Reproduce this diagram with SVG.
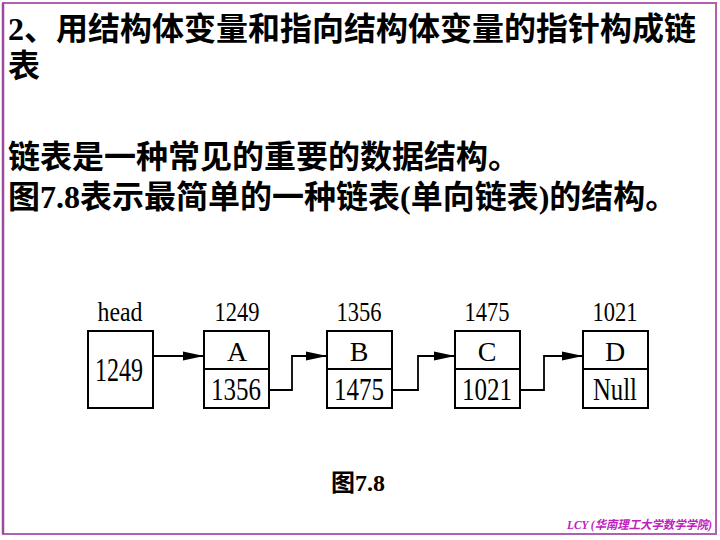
<svg xmlns="http://www.w3.org/2000/svg" width="720" height="540" viewBox="0 0 720 540">
<defs>
<style>
.h{font-family:"Noto Sans CJK SC",sans-serif;font-weight:bold;font-size:32px;fill:#000}
.l{font-family:"Liberation Serif",serif;font-weight:bold}
.t{font-family:"Liberation Serif",serif;fill:#000;text-anchor:middle}
.box{fill:#fff;stroke:#000;stroke-width:2}
.ln{fill:none;stroke:#000;stroke-width:1.8}
</style>
<marker id="ah" markerUnits="userSpaceOnUse" markerWidth="22" markerHeight="10" refX="21" refY="5" orient="auto">
<path d="M0,0.5 L21,5 L0,9.5 Z" fill="#000"/>
</marker>
</defs>
<rect x="0" y="0" width="720" height="540" fill="#fff"/>
<rect x="3" y="3" width="713" height="531" fill="none" stroke="#b060b0" stroke-width="2"/>
<line x1="3" y1="3" x2="3" y2="534" stroke="#9a4a9a" stroke-width="2.5"/>

<text class="h" x="8" y="40"><tspan class="l">2</tspan>、用结构体变量和指向结构体变量的指针构成链</text>
<text class="h" x="8" y="77">表</text>
<text class="h" x="8" y="168">链表是一种常见的重要的数据结构。</text>
<text class="h" x="8" y="208">图<tspan class="l">7.8</tspan>表示最简单的一种链表<tspan class="l">(</tspan>单向链表<tspan class="l">)</tspan>的结构。</text>

<g id="connectors">
<line class="ln" x1="153" y1="356" x2="204" y2="356" marker-end="url(#ah)"/>
<polyline class="ln" points="269,390 292,390 292,356 327,356" marker-end="url(#ah)"/>
<polyline class="ln" points="392,390 418,390 418,356 455,356" marker-end="url(#ah)"/>
<polyline class="ln" points="520,390 544,390 544,356 583,356" marker-end="url(#ah)"/>
</g>

<g id="head">
<text class="t" x="120" y="321" font-size="27" textLength="45" lengthAdjust="spacingAndGlyphs">head</text>
<rect class="box" x="88" y="331" width="65" height="77"/>
<text class="t" x="119" y="381" font-size="34" textLength="48" lengthAdjust="spacingAndGlyphs">1249</text>
</g>

<g id="nodeA">
<text class="t" x="237" y="321" font-size="27" textLength="45" lengthAdjust="spacingAndGlyphs">1249</text>
<rect class="box" x="204" y="331" width="65" height="77"/>
<line class="ln" x1="204" y1="369" x2="269" y2="369" stroke-width="2"/>
<text class="t" x="237" y="361" font-size="28">A</text>
<text class="t" x="236" y="400" font-size="32" textLength="50" lengthAdjust="spacingAndGlyphs">1356</text>
</g>

<g id="nodeB">
<text class="t" x="359" y="321" font-size="27" textLength="45" lengthAdjust="spacingAndGlyphs">1356</text>
<rect class="box" x="327" y="331" width="65" height="77"/>
<line class="ln" x1="327" y1="369" x2="392" y2="369" stroke-width="2"/>
<text class="t" x="359" y="361" font-size="28">B</text>
<text class="t" x="359" y="400" font-size="32" textLength="50" lengthAdjust="spacingAndGlyphs">1475</text>
</g>

<g id="nodeC">
<text class="t" x="487" y="321" font-size="27" textLength="45" lengthAdjust="spacingAndGlyphs">1475</text>
<rect class="box" x="455" y="331" width="65" height="77"/>
<line class="ln" x1="455" y1="369" x2="520" y2="369" stroke-width="2"/>
<text class="t" x="487" y="361" font-size="28">C</text>
<text class="t" x="487" y="400" font-size="32" textLength="50" lengthAdjust="spacingAndGlyphs">1021</text>
</g>

<g id="nodeD">
<text class="t" x="615" y="321" font-size="27" textLength="45" lengthAdjust="spacingAndGlyphs">1021</text>
<rect class="box" x="583" y="331" width="65" height="77"/>
<line class="ln" x1="583" y1="369" x2="648" y2="369" stroke-width="2"/>
<text class="t" x="615" y="361" font-size="28">D</text>
<text class="t" x="615" y="400" font-size="32" textLength="44" lengthAdjust="spacingAndGlyphs">Null</text>
</g>

<text x="331" y="491" font-family="Noto Sans CJK SC,sans-serif" font-weight="bold" font-size="24">图<tspan font-family="Liberation Serif,serif">7.8</tspan></text>
<text x="567" y="529" font-family="Liberation Serif,Noto Sans CJK SC,serif" font-weight="bold" font-style="italic" font-size="12" fill="#c020c0" textLength="145" lengthAdjust="spacingAndGlyphs">LCY (华南理工大学数学学院)</text>
</svg>
